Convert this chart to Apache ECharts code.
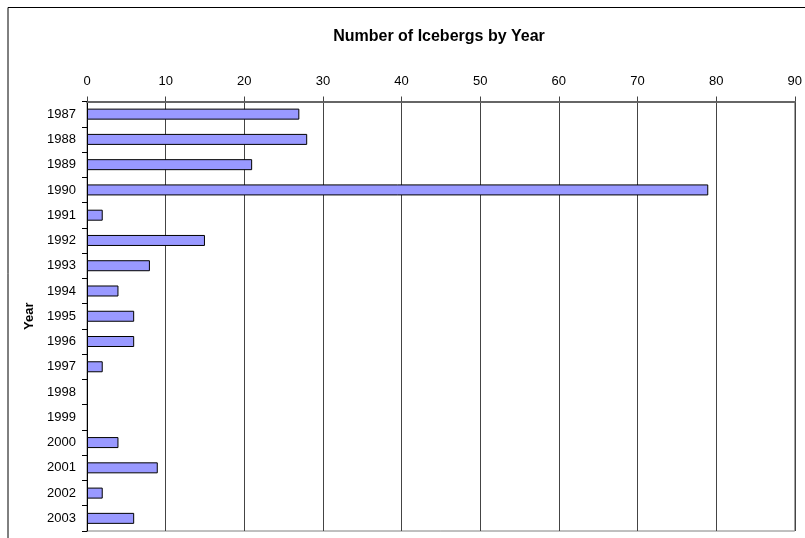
<!DOCTYPE html>
<html>
<head>
<meta charset="utf-8">
<script src="https://cdn.jsdelivr.net/npm/echarts@6/dist/echarts.min.js"></script>
<style>
  html, body { margin: 0; padding: 0; background: #fff; }
  #chart { width: 805px; height: 538px; }
</style>
</head>
<body>
<div id="chart"></div>
<script>
// Iceberg counts per year
const years = ['1987', '1988', '1989', '1990', '1991', '1992', '1993', '1994', '1995',
               '1996', '1997', '1998', '1999', '2000', '2001', '2002', '2003'];
const icebergs = [27, 28, 21, 79, 2, 15, 8, 4, 6, 6, 2, 0, 0, 4, 9, 2, 6];
const countTicks = { min: 0, max: 90, interval: 10 };

const FONT = '"Liberation Sans", Arial, sans-serif';
const chart = echarts.init(document.getElementById('chart'), null, { renderer: 'canvas' });

// zero-count years get no outline so that nothing is drawn for them
const barData = icebergs.map(v => v === 0
  ? { value: v, itemStyle: { borderWidth: 0 } }
  : v);

chart.setOption({
  animation: false,
  backgroundColor: '#ffffff',
  title: {
    text: 'Number of Icebergs by Year',
    left: 434,
    top: 24,
    textAlign: 'center',
    textStyle: { fontFamily: FONT, fontSize: 16, fontWeight: 'bold', color: '#000' }
  },
  graphic: [{
    type: 'rect',
    shape: { x: 8, y: 7.5, width: 820, height: 560 },
    style: { fill: 'none', stroke: '#000', lineWidth: 1 },
    silent: true,
    z: -1
  }],
  grid: {
    left: 87, right: 7, top: 101.5, bottom: 7,
    show: true, borderColor: '#808080', borderWidth: 1
  },
  xAxis: {
    type: 'value',
    position: 'top',
    min: countTicks.min,
    max: countTicks.max,
    interval: countTicks.interval,
    axisLine: { show: true, lineStyle: { color: '#666', width: 2 } },
    axisTick: { show: true, length: 5, lineStyle: { color: '#444' } },
    axisLabel: { margin: 14, fontFamily: FONT, fontSize: 13, color: '#000' },
    splitLine: { show: true, lineStyle: { color: '#444', width: 1 } }
  },
  yAxis: {
    type: 'category',
    data: years,
    inverse: true,
    name: 'Year',
    nameLocation: 'middle',
    nameGap: 50,
    nameRotate: 90,
    nameTextStyle: { fontFamily: FONT, fontSize: 13, fontWeight: 'bold', color: '#000' },
    axisLine: { show: true, lineStyle: { color: '#000', width: 1 } },
    axisTick: { show: true, length: 5, lineStyle: { color: '#000' } },
    axisLabel: { margin: 11, fontFamily: FONT, fontSize: 13, color: '#000' },
    splitLine: { show: false }
  },
  series: [{
    type: 'bar',
    data: barData,
    barWidth: 11,
    itemStyle: { color: '#9999ff', borderColor: '#000', borderWidth: 1 }
  }]
});
</script>
</body>
</html>
